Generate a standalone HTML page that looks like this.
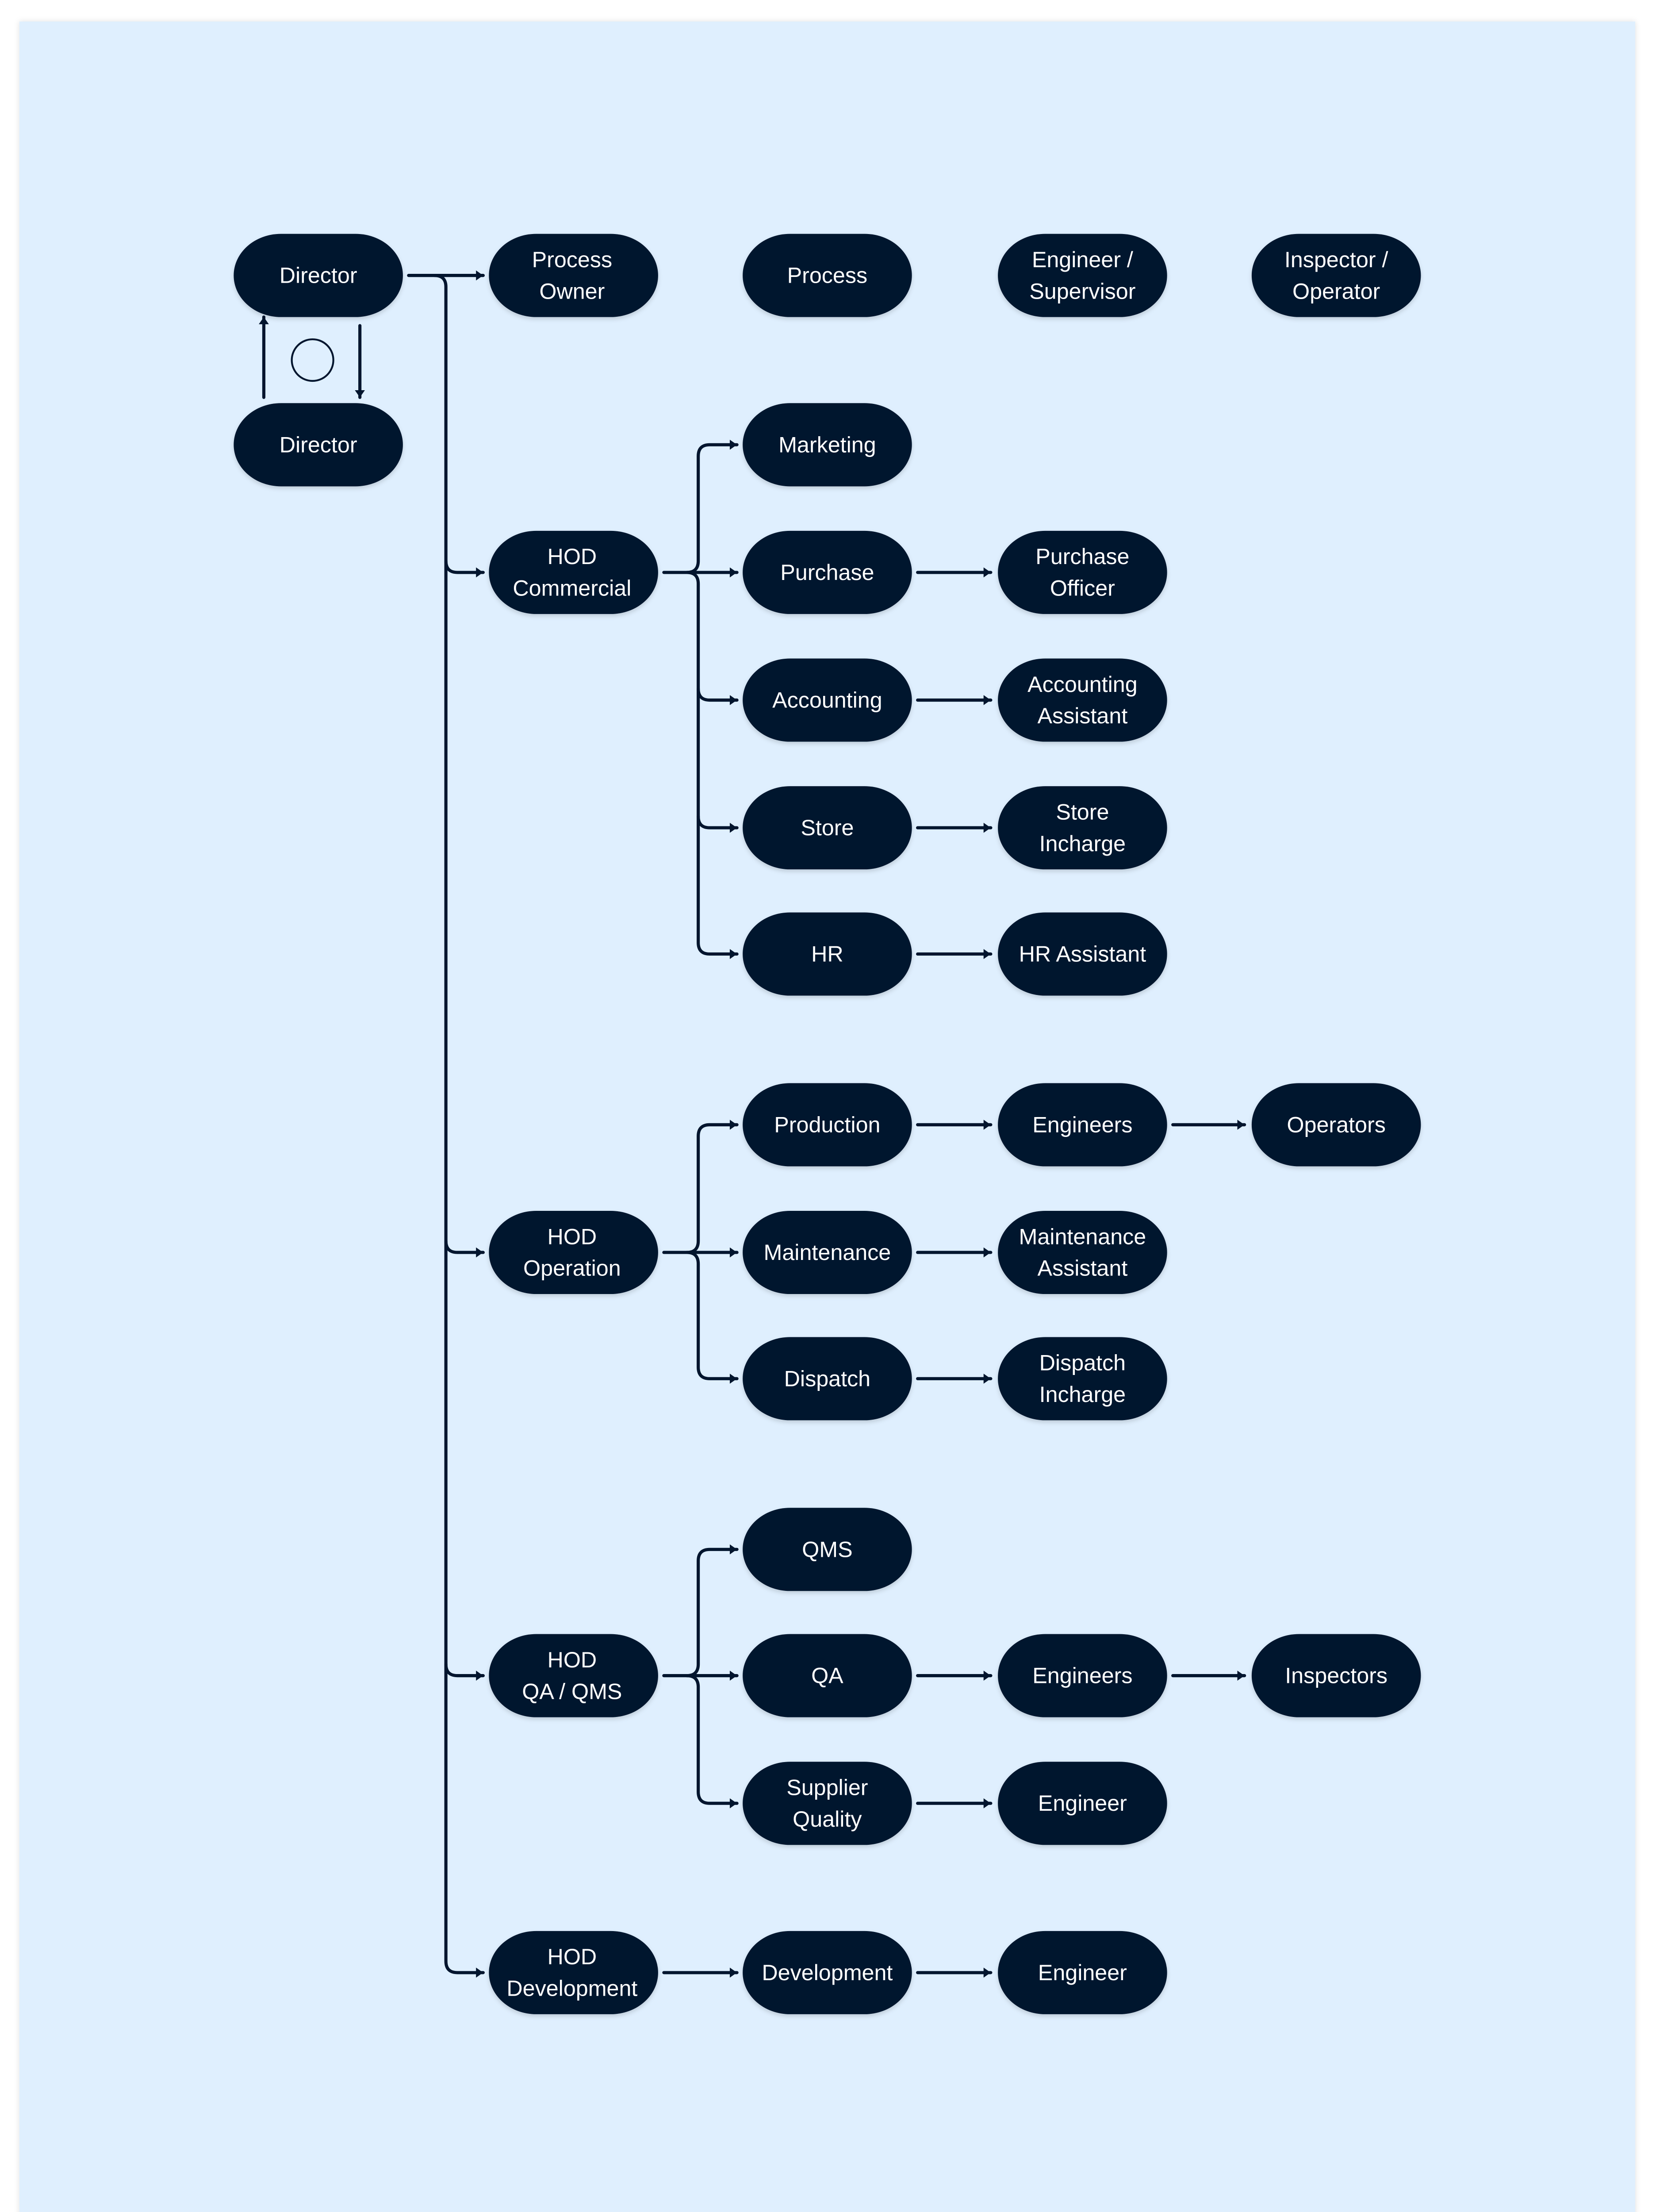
<!DOCTYPE html>
<html><head><meta charset="utf-8"><style>
html,body{margin:0;padding:0;background:#fff;width:3744px;height:5088px;overflow:hidden;}
svg{display:block;}
text{font-family:"Liberation Sans",sans-serif;font-size:15.5px;fill:#fff;text-anchor:middle;dominant-baseline:central;}
</style></head><body>
<svg width="3744" height="5088" viewBox="0 0 1155 1569" preserveAspectRatio="none" xmlns="http://www.w3.org/2000/svg">
<defs>
<marker id="a" markerWidth="8" markerHeight="8" refX="6" refY="4" orient="auto" markerUnits="userSpaceOnUse">
<path d="M1,0.5 L6,4 L1,7.5 Z" fill="#02152e"/>
</marker>
<filter id="sh" x="-20%" y="-20%" width="140%" height="150%"><feDropShadow dx="0" dy="1.5" stdDeviation="1.5" flood-color="#000" flood-opacity="0.15"/></filter>
<filter id="psh" x="-5%" y="-5%" width="110%" height="110%"><feDropShadow dx="0" dy="0" stdDeviation="2" flood-color="#000" flood-opacity="0.12"/></filter>
</defs>
<rect x="13.5" y="15" width="1127" height="1539" fill="#dfeffe" filter="url(#psh)"/>
<g fill="none" stroke="#02152e" stroke-width="2.2" stroke-linecap="round">
<path d="M285 192 H337" marker-end="url(#a)"/>
<path d="M303 192 Q311 192 311 200 V1367 Q311 1375 319 1375 H337" marker-end="url(#a)"/>
<path d="M311 391 Q311 399 319 399 H337" marker-end="url(#a)"/>
<path d="M311 865 Q311 873 319 873 H337" marker-end="url(#a)"/>
<path d="M311 1160 Q311 1168 319 1168 H337" marker-end="url(#a)"/>
<path d="M184 277 V221" marker-end="url(#a)"/>
<path d="M251 227 V277" marker-end="url(#a)"/>
<path d="M463 399 H514" marker-end="url(#a)"/>
<path d="M479 399 Q487 399 487 391 V318 Q487 310 495 310 H514" marker-end="url(#a)"/>
<path d="M479 399 Q487 399 487 407 V657 Q487 665 495 665 H514" marker-end="url(#a)"/>
<path d="M487 480 Q487 488 495 488 H514" marker-end="url(#a)"/>
<path d="M487 569 Q487 577 495 577 H514" marker-end="url(#a)"/>
<path d="M463 873 H514" marker-end="url(#a)"/>
<path d="M479 873 Q487 873 487 865 V792 Q487 784 495 784 H514" marker-end="url(#a)"/>
<path d="M479 873 Q487 873 487 881 V953 Q487 961 495 961 H514" marker-end="url(#a)"/>
<path d="M463 1168 H514" marker-end="url(#a)"/>
<path d="M479 1168 Q487 1168 487 1160 V1088 Q487 1080 495 1080 H514" marker-end="url(#a)"/>
<path d="M479 1168 Q487 1168 487 1176 V1249 Q487 1257 495 1257 H514" marker-end="url(#a)"/>
<path d="M463 1375 H514" marker-end="url(#a)"/>
<path d="M640 399 H691" marker-end="url(#a)"/>
<path d="M640 488 H691" marker-end="url(#a)"/>
<path d="M640 577 H691" marker-end="url(#a)"/>
<path d="M640 665 H691" marker-end="url(#a)"/>
<path d="M640 784 H691" marker-end="url(#a)"/>
<path d="M640 873 H691" marker-end="url(#a)"/>
<path d="M640 961 H691" marker-end="url(#a)"/>
<path d="M640 1168 H691" marker-end="url(#a)"/>
<path d="M640 1257 H691" marker-end="url(#a)"/>
<path d="M640 1375 H691" marker-end="url(#a)"/>
<path d="M818 784 H868" marker-end="url(#a)"/>
<path d="M818 1168 H868" marker-end="url(#a)"/>
</g>
<circle cx="218" cy="251" r="14.5" fill="none" stroke="#02152e" stroke-width="1.3"/>
<g fill="#02152e" filter="url(#sh)">
<rect x="163" y="163" width="118" height="58" rx="33" ry="29"/>
<rect x="163" y="281" width="118" height="58" rx="33" ry="29"/>
<rect x="341" y="163" width="118" height="58" rx="33" ry="29"/>
<rect x="518" y="163" width="118" height="58" rx="33" ry="29"/>
<rect x="696" y="163" width="118" height="58" rx="33" ry="29"/>
<rect x="873" y="163" width="118" height="58" rx="33" ry="29"/>
<rect x="341" y="370" width="118" height="58" rx="33" ry="29"/>
<rect x="341" y="844" width="118" height="58" rx="33" ry="29"/>
<rect x="341" y="1139" width="118" height="58" rx="33" ry="29"/>
<rect x="341" y="1346" width="118" height="58" rx="33" ry="29"/>
<rect x="518" y="281" width="118" height="58" rx="33" ry="29"/>
<rect x="518" y="370" width="118" height="58" rx="33" ry="29"/>
<rect x="518" y="459" width="118" height="58" rx="33" ry="29"/>
<rect x="518" y="548" width="118" height="58" rx="33" ry="29"/>
<rect x="518" y="636" width="118" height="58" rx="33" ry="29"/>
<rect x="518" y="755" width="118" height="58" rx="33" ry="29"/>
<rect x="518" y="844" width="118" height="58" rx="33" ry="29"/>
<rect x="518" y="932" width="118" height="58" rx="33" ry="29"/>
<rect x="518" y="1051" width="118" height="58" rx="33" ry="29"/>
<rect x="518" y="1139" width="118" height="58" rx="33" ry="29"/>
<rect x="518" y="1228" width="118" height="58" rx="33" ry="29"/>
<rect x="518" y="1346" width="118" height="58" rx="33" ry="29"/>
<rect x="696" y="370" width="118" height="58" rx="33" ry="29"/>
<rect x="696" y="459" width="118" height="58" rx="33" ry="29"/>
<rect x="696" y="548" width="118" height="58" rx="33" ry="29"/>
<rect x="696" y="636" width="118" height="58" rx="33" ry="29"/>
<rect x="696" y="755" width="118" height="58" rx="33" ry="29"/>
<rect x="696" y="844" width="118" height="58" rx="33" ry="29"/>
<rect x="696" y="932" width="118" height="58" rx="33" ry="29"/>
<rect x="696" y="1139" width="118" height="58" rx="33" ry="29"/>
<rect x="696" y="1228" width="118" height="58" rx="33" ry="29"/>
<rect x="696" y="1346" width="118" height="58" rx="33" ry="29"/>
<rect x="873" y="755" width="118" height="58" rx="33" ry="29"/>
<rect x="873" y="1139" width="118" height="58" rx="33" ry="29"/>
</g>
<g>
<text x="222" y="192">Director</text>
<text x="222" y="310">Director</text>
<text x="399" y="181">Process</text><text x="399" y="203">Owner</text>
<text x="577" y="192">Process</text>
<text x="755" y="181">Engineer /</text><text x="755" y="203">Supervisor</text>
<text x="932" y="181">Inspector /</text><text x="932" y="203">Operator</text>
<text x="399" y="388">HOD</text><text x="399" y="410">Commercial</text>
<text x="399" y="862">HOD</text><text x="399" y="884">Operation</text>
<text x="399" y="1157">HOD</text><text x="399" y="1179">QA / QMS</text>
<text x="399" y="1364">HOD</text><text x="399" y="1386">Development</text>
<text x="577" y="310">Marketing</text>
<text x="577" y="399">Purchase</text>
<text x="577" y="488">Accounting</text>
<text x="577" y="577">Store</text>
<text x="577" y="665">HR</text>
<text x="577" y="784">Production</text>
<text x="577" y="873">Maintenance</text>
<text x="577" y="961">Dispatch</text>
<text x="577" y="1080">QMS</text>
<text x="577" y="1168">QA</text>
<text x="577" y="1246">Supplier</text><text x="577" y="1268">Quality</text>
<text x="577" y="1375">Development</text>
<text x="755" y="388">Purchase</text><text x="755" y="410">Officer</text>
<text x="755" y="477">Accounting</text><text x="755" y="499">Assistant</text>
<text x="755" y="566">Store</text><text x="755" y="588">Incharge</text>
<text x="755" y="665">HR Assistant</text>
<text x="755" y="784">Engineers</text>
<text x="755" y="862">Maintenance</text><text x="755" y="884">Assistant</text>
<text x="755" y="950">Dispatch</text><text x="755" y="972">Incharge</text>
<text x="755" y="1168">Engineers</text>
<text x="755" y="1257">Engineer</text>
<text x="755" y="1375">Engineer</text>
<text x="932" y="784">Operators</text>
<text x="932" y="1168">Inspectors</text>
</g>
</svg>
</body></html>
